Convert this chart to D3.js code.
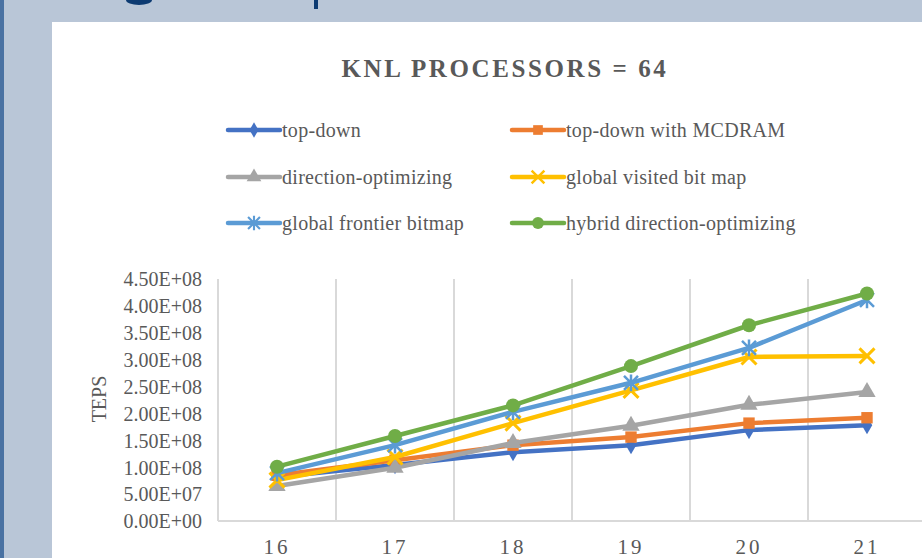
<!DOCTYPE html>
<html>
<head>
<meta charset="utf-8">
<script src="https://cdn.jsdelivr.net/npm/d3@7"></script>
<style>
  body { margin: 0; background: #b9c6d7; overflow: hidden; }
  svg { display: block; }
</style>
</head>
<body>
<div id="chart"></div>
<script>
// data ---------------------------------------------------------------------------------------
const categories = [16, 17, 18, 19, 20, 21];
const seriesNames = [
  'top-down', 'top-down with MCDRAM', 'direction-optimizing',
  'global visited bit map', 'global frontier bitmap', 'hybrid direction-optimizing'
];
const topDown        = [0.82e8, 1.04e8, 1.28e8, 1.41e8, 1.69e8, 1.78e8];
const topDownMcdram  = [0.85e8, 1.13e8, 1.41e8, 1.56e8, 1.82e8, 1.92e8];
const directionOpt   = [0.65e8, 0.99e8, 1.45e8, 1.77e8, 2.16e8, 2.40e8];
const globalVisited  = [0.76e8, 1.19e8, 1.82e8, 2.43e8, 3.05e8, 3.07e8];
const globalFrontier = [0.89e8, 1.41e8, 2.03e8, 2.57e8, 3.22e8, 4.11e8];
const hybridDirOpt   = [1.01e8, 1.58e8, 2.15e8, 2.88e8, 3.64e8, 4.23e8];
const yTicks = [0, 0.5e8, 1e8, 1.5e8, 2e8, 2.5e8, 3e8, 3.5e8, 4e8, 4.5e8];
const chartTitle = 'KNL PROCESSORS = 64';
const yTitle = 'TEPS';

// sizes ----------------------------------------------------------------------------------------
const width = 922;
const height = 558;
const plot = {left: 218, right: 926, top: 279, bottom: 521};
const textColor = '#595959';
const serif = '"Liberation Serif", "Times New Roman", serif';

const series = [
  {name: seriesNames[0], values: topDown,        color: '#4472c4', marker: 'diamond'},
  {name: seriesNames[1], values: topDownMcdram,  color: '#ed7d31', marker: 'square'},
  {name: seriesNames[2], values: directionOpt,   color: '#a5a5a5', marker: 'triangle'},
  {name: seriesNames[3], values: globalVisited,  color: '#ffc000', marker: 'x'},
  {name: seriesNames[4], values: globalFrontier, color: '#5b9bd5', marker: 'star'},
  {name: seriesNames[5], values: hybridDirOpt,   color: '#70ad47', marker: 'circle'}
];

// svg --------------------------------------------------------------------------------------------
const svg = d3.select('#chart').append('svg')
  .attr('width', width)
  .attr('height', height);

// slide background
svg.append('rect').attr('x', 0).attr('y', 0).attr('width', width).attr('height', height).attr('fill', '#b9c6d7');
svg.append('rect').attr('x', 0).attr('y', 0).attr('width', 4).attr('height', height).attr('fill', '#4a72a2');
svg.append('rect').attr('x', 52).attr('y', 22).attr('width', width - 52).attr('height', height - 22).attr('fill', '#ffffff');
svg.append('ellipse').attr('cx', 139).attr('cy', 0).attr('rx', 13).attr('ry', 5).attr('fill', '#0d3b72');
svg.append('rect').attr('x', 314).attr('y', 0).attr('width', 4).attr('height', 9).attr('fill', '#0d3b72');

// scales -----------------------------------------------------------------------------------------
const x = d3.scaleBand()
  .domain(categories)
  .range([plot.left, plot.right])
  .paddingInner(0)
  .paddingOuter(0);
const y = d3.scaleLinear()
  .domain([0, 4.5e8])
  .range([plot.bottom, plot.top]);

const sciFormat = v => {
  const [m, e] = d3.format('.2e')(v).split('e');
  const sign = e[0] === '-' ? '-' : '+';
  const exp = e.replace(/[+-]/, '').padStart(2, '0');
  return m + 'E' + sign + exp;
};

// gridlines ---------------------------------------------------------------------------------------
const edges = d3.range(categories.length + 1).map(i => plot.left + i * x.bandwidth());
svg.append('g').selectAll('line')
  .data(edges)
  .enter()
  .append('line')
  .attr('x1', d => d).attr('x2', d => d)
  .attr('y1', plot.top).attr('y2', plot.bottom)
  .attr('stroke', '#d9d9d9')
  .attr('stroke-width', 2);
svg.append('line')
  .attr('x1', plot.left).attr('x2', plot.right)
  .attr('y1', plot.bottom).attr('y2', plot.bottom)
  .attr('stroke', '#d9d9d9')
  .attr('stroke-width', 2);

// axes ----------------------------------------------------------------------------------------------
const yAxis = svg.append('g')
  .attr('transform', 'translate(' + (plot.left - 16) + ',0)')
  .call(d3.axisLeft(y).tickValues(yTicks).tickSize(0).tickPadding(0).tickFormat(sciFormat));
yAxis.select('.domain').remove();
yAxis.selectAll('text')
  .attr('fill', textColor)
  .attr('font-family', serif)
  .attr('font-size', '20px')
  .attr('dy', '0.34em');

const xAxis = svg.append('g')
  .attr('transform', 'translate(0,' + plot.bottom + ')')
  .call(d3.axisBottom(x).tickSize(0).tickPadding(0));
xAxis.select('.domain').remove();
xAxis.selectAll('text')
  .attr('fill', textColor)
  .attr('font-family', serif)
  .attr('font-size', '21px')
  .attr('letter-spacing', '3px')
  .attr('dy', '0')
  .attr('y', 33);

svg.append('text')
  .attr('transform', 'translate(106,399) rotate(-90)')
  .attr('text-anchor', 'middle')
  .attr('fill', textColor)
  .attr('font-family', serif)
  .attr('font-size', '20px')
  .text(yTitle);

// title -------------------------------------------------------------------------------------------
svg.append('text')
  .attr('x', 505)
  .attr('y', 77)
  .attr('text-anchor', 'middle')
  .attr('fill', textColor)
  .attr('font-family', serif)
  .attr('font-weight', 'bold')
  .attr('font-size', '25px')
  .attr('letter-spacing', '2.6px')
  .text(chartTitle);

// markers -------------------------------------------------------------------------------------------
const drawMarker = (sel, s, cx, cy, scale) => {
  const k = scale || 1;
  const g = sel.append('g').attr('transform', 'translate(' + cx + ',' + cy + ')');
  if (s.marker === 'diamond') {
    g.append('path').attr('d', d3.symbol(d3.symbolDiamond, 95 * k * k)()).attr('fill', s.color);
  } else if (s.marker === 'square') {
    g.append('path').attr('d', d3.symbol(d3.symbolSquare, 130 * k * k)()).attr('fill', s.color);
  } else if (s.marker === 'triangle') {
    g.append('path').attr('d', d3.symbol(d3.symbolTriangle, 130 * k * k)()).attr('fill', s.color);
  } else if (s.marker === 'circle') {
    g.append('circle').attr('r', 7 * k).attr('fill', s.color);
  } else if (s.marker === 'x') {
    const r = 7.5 * k;
    g.append('path').attr('d', `M${-r},${-r}L${r},${r}M${-r},${r}L${r},${-r}`)
      .attr('stroke', s.color).attr('stroke-width', 3 * k).attr('fill', 'none');
  } else if (s.marker === 'star') {
    const r = 7 * k;
    g.append('path').attr('d', `M${-r},${-r}L${r},${r}M${-r},${r}L${r},${-r}M0,${-r * 1.2}L0,${r * 1.2}`)
      .attr('stroke', s.color).attr('stroke-width', 2.5 * k).attr('fill', 'none');
  }
};

// lines -----------------------------------------------------------------------------------------------
const line = d3.line()
  .x((d, i) => x(categories[i]) + x.bandwidth() / 2)
  .y(d => y(d));

series.forEach(s => {
  const g = svg.append('g').attr('class', 'series');
  g.append('path')
    .attr('d', line(s.values))
    .attr('fill', 'none')
    .attr('stroke', s.color)
    .attr('stroke-width', 4.5)
    .attr('stroke-linejoin', 'round')
    .attr('stroke-linecap', 'round');
  s.values.forEach((v, i) => drawMarker(g, s, x(categories[i]) + x.bandwidth() / 2, y(v)));
});

// legend ---------------------------------------------------------------------------------------------
const legendCols = [228, 512];
const legendRows = [130, 177, 223];
series.forEach((s, i) => {
  const lx = legendCols[i % 2];
  const ly = legendRows[Math.floor(i / 2)];
  const g = svg.append('g').attr('class', 'legend-item');
  g.append('line')
    .attr('x1', lx).attr('x2', lx + 52)
    .attr('y1', ly).attr('y2', ly)
    .attr('stroke', s.color)
    .attr('stroke-width', 4.5)
    .attr('stroke-linecap', 'round');
  drawMarker(g, s, lx + 26, ly, 0.85);
  g.append('text')
    .attr('x', lx + 54)
    .attr('y', ly)
    .attr('dy', '0.33em')
    .attr('fill', textColor)
    .attr('font-family', serif)
    .attr('font-size', '20px')
    .attr('letter-spacing', '0.3px')
    .text(s.name);
});
</script>
</body>
</html>
